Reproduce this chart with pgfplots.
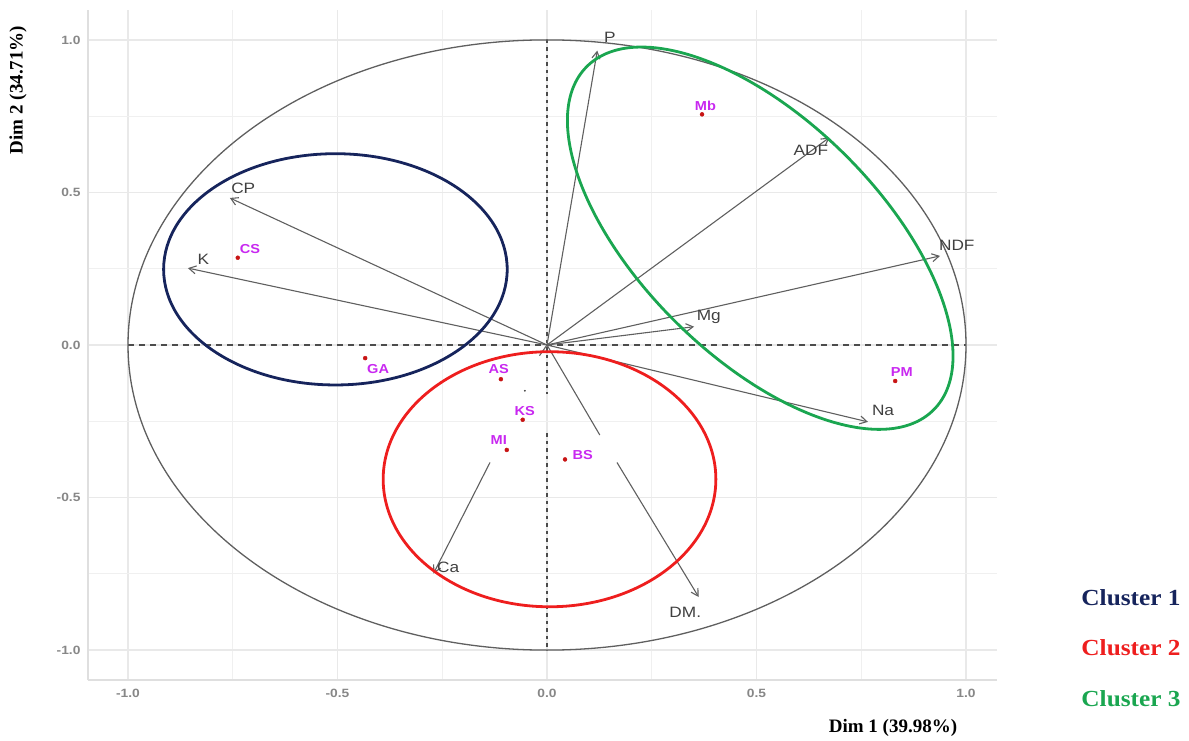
\documentclass[border=0pt]{standalone}
\usepackage{fontspec}
\setmainfont{Liberation Sans}
\newfontfamily\timesf{Liberation Serif}
\usepackage{graphicx}
\usepackage{pgfplots}
\pgfplotsset{compat=1.18}
\usetikzlibrary{arrows.meta}
\definecolor{arrowgray}{RGB}{95,95,95}
\definecolor{circgray}{RGB}{95,95,95}
\definecolor{navyc}{RGB}{22,36,92}
\definecolor{redc}{RGB}{238,30,30}
\definecolor{greenc}{RGB}{26,166,80}
\definecolor{magc}{RGB}{200,40,240}
\definecolor{ptred}{RGB}{200,20,20}
\definecolor{ticktext}{RGB}{135,135,135}
\newcommand{\vlab}[1]{\scalebox{1.15}[1]{#1}}
\newcommand{\ilab}[1]{\scalebox{1.12}[1]{#1}}
\newcommand{\tlab}[1]{\scalebox{1.15}[1]{#1}}
\pgfplotsset{varrow/.style={arrowgray, line width=1.1pt, -{Straight Barb[length=7pt,width=8pt]}},
 vseg/.style={arrowgray, line width=1.1pt}}
\begin{document}
\begin{tikzpicture}
\useasboundingbox (-88pt,-60pt) rectangle (1101pt,680pt);
\begin{axis}[
 scale only axis, width=909pt, height=670pt,
 xmin=-1.0955, xmax=1.074, ymin=-1.098, ymax=1.098,
 axis x line*=bottom, axis y line*=left,
 axis line style={draw=gray!25, line width=1.5pt, -},
 xtick={-1,-0.5,0,0.5,1}, xticklabels={\tlab{-1.0},\tlab{-0.5},\tlab{0.0},\tlab{0.5},\tlab{1.0}},
 ytick={-1,-0.5,0,0.5,1}, yticklabels={\tlab{-1.0},\tlab{-0.5},\tlab{0.0},\tlab{0.5},\tlab{1.0}},
 minor xtick={-0.75,-0.25,0.25,0.75}, minor ytick={-0.75,-0.25,0.25,0.75},
 grid=both,
 major grid style={draw=gray!17, line width=1.4pt},
 minor grid style={draw=gray!12, line width=1.1pt},
 major tick length=0pt, minor tick length=0pt,
 tick label style={font=\bfseries\fontsize{12}{14}\selectfont, text=ticktext},
 xticklabel style={yshift=-6pt}, yticklabel style={xshift=-4pt},
 clip=false,
]
% dashed axes
\addplot[draw=black!70, line width=1.3pt, dash pattern=on 6pt off 5pt] coordinates {(-1,0) (1,0)};
\addplot[draw=black!70, line width=1.4pt, dash pattern=on 3.5pt off 4pt] coordinates {(0,1) (0,-0.16)};
\addplot[draw=black!70, line width=1.4pt, dash pattern=on 3.5pt off 4pt] coordinates {(0,-0.29) (0,-1)};
% correlation circle
\draw[circgray, line width=1.3pt] (axis cs:0,0) ellipse [x radius=1, y radius=1];
% variable arrows
\addplot[varrow] coordinates {(0,0) (0.12,0.965)};
\addplot[varrow] coordinates {(0,0) (0.674,0.680)};
\addplot[varrow] coordinates {(0,0) (0.938,0.292)};
\addplot[varrow] coordinates {(0,0) (0.351,0.060)};
\addplot[varrow] coordinates {(0,0) (0.766,-0.252)};
\addplot[varrow] coordinates {(0,0) (-0.757,0.482)};
\addplot[varrow] coordinates {(0,0) (-0.857,0.252)};
\addplot[vseg] coordinates {(0,0) (0.126,-0.295)};
\addplot[varrow] coordinates {(0.167,-0.385) (0.362,-0.826)};
\addplot[vseg] coordinates {(0,0) (-0.018,-0.035)};
\addplot[varrow] coordinates {(-0.136,-0.385) (-0.271,-0.749)};
% cluster ellipses
\draw[navyc, line width=2.8pt] (axis cs:-0.505,0.248) ellipse [x radius=0.41, y radius=0.379];
\draw[redc, line width=2.8pt] (axis cs:0.006,-0.44) ellipse [x radius=0.397, y radius=0.418];
\coordinate (gc) at (axis cs:0.509,0.350);
% individuals
\addplot[only marks, mark=*, mark size=2pt, ptred] coordinates {
 (-0.738,0.286) (-0.434,-0.043) (0.370,0.756) (0.831,-0.118)
 (-0.110,-0.112) (-0.058,-0.245) (-0.096,-0.344) (0.043,-0.375)};
\addplot[only marks, mark=*, mark size=0.7pt, black!70] coordinates {(-0.053,-0.15)};
% variable labels
\begin{scope}[every node/.style={font=\fontsize{15}{17}\selectfont, text=black!75}]
\node at (axis cs:0.150,1.007) {\vlab{P}};
\node at (axis cs:0.630,0.638) {\vlab{ADF}};
\node at (axis cs:0.978,0.328) {\vlab{NDF}};
\node at (axis cs:0.386,0.092) {\vlab{Mg}};
\node at (axis cs:0.802,-0.216) {\vlab{Na}};
\node at (axis cs:0.330,-0.875) {\vlab{DM.}};
\node at (axis cs:-0.236,-0.728) {\vlab{Ca}};
\node at (axis cs:-0.725,0.515) {\vlab{CP}};
\node at (axis cs:-0.820,0.280) {\vlab{K}};
\end{scope}
% individual labels
\begin{scope}[every node/.style={font=\bfseries\fontsize{13}{15}\selectfont, text=magc}]
\node at (axis cs:-0.709,0.314) {\ilab{CS}};
\node at (axis cs:-0.403,-0.079) {\ilab{GA}};
\node at (axis cs:0.378,0.783) {\ilab{Mb}};
\node at (axis cs:0.847,-0.089) {\ilab{PM}};
\node at (axis cs:-0.115,-0.080) {\ilab{AS}};
\node at (axis cs:-0.053,-0.218) {\ilab{KS}};
\node at (axis cs:-0.115,-0.312) {\ilab{MI}};
\node at (axis cs:0.085,-0.361) {\ilab{BS}};
\end{scope}
\end{axis}
\draw[greenc, line width=2.8pt, rotate around={-44.6:(gc)}] (gc) ellipse [x radius=244pt, y radius=119pt];
% axis titles
\node[font=\timesf\bfseries\fontsize{19}{22}\selectfont] at (805pt,-48pt) {Dim 1 (39.98\%)};
\node[font=\timesf\bfseries\fontsize{19}{22}\selectfont, rotate=90] at (-70pt,590pt) {Dim 2 (34.71\%)};
% cluster legend
\node[font=\timesf\bfseries\fontsize{23}{26}\selectfont, text=navyc] at (1043pt,82pt) {\scalebox{1.1}[1]{Cluster 1}};
\node[font=\timesf\bfseries\fontsize{23}{26}\selectfont, text=redc] at (1043pt,32pt) {\scalebox{1.1}[1]{Cluster 2}};
\node[font=\timesf\bfseries\fontsize{23}{26}\selectfont, text=greenc] at (1043pt,-19pt) {\scalebox{1.1}[1]{Cluster 3}};
\end{tikzpicture}
\end{document}
